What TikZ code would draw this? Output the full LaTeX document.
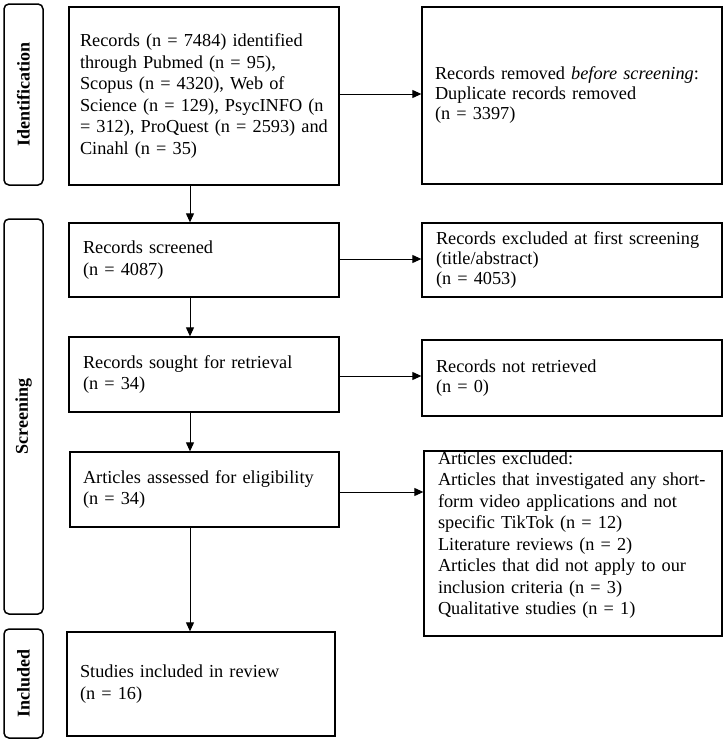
\documentclass[tikz,border=0pt]{standalone}
\usepackage{fontspec}
\setmainfont{Liberation Serif}[WordSpace=0.8]
\usetikzlibrary{arrows.meta}
\begin{document}
\begin{tikzpicture}[x=1pt,y=-1pt,
  box/.style={draw, line width=1.3pt, inner sep=0pt, align=left, font=\fontsize{18.3}{21.5}\selectfont},
  side/.style={draw, line width=1.5pt, rounded corners=5pt, inner sep=0pt, font=\fontsize{18}{21.5}\selectfont\bfseries, rotate=90},
  arr/.style={line width=1pt, -{Triangle[length=9pt,width=8pt]}}]
\useasboundingbox (0,0) rectangle (726,744);
% side labels
\node[side, minimum width=181pt, minimum height=39pt] (idl) at (23.5,94.5) {Identification};
\node[side, minimum width=395pt, minimum height=39pt] (scl) at (23.5,416.5) {Screening};
\node[side, minimum width=109pt, minimum height=39pt] (inl) at (23.5,683.5) {Included};
% left column
\node[box, minimum width=270pt, minimum height=178pt, text width=248pt] (b1) at (204,96) {Records (n = 7484) identified\\through Pubmed (n = 95),\\Scopus (n = 4320), Web of\\Science (n = 129), PsycINFO (n\\= 312), ProQuest (n = 2593) and\\Cinahl (n = 35)};
\node[box, minimum width=270pt, minimum height=74pt, text width=242pt] (scr) at (204,260) {Records screened\\(n = 4087)};
\node[box, minimum width=270pt, minimum height=75pt, text width=242pt] (sought) at (204,374.5) {Records sought for retrieval\\(n = 34)};
\node[box, minimum width=269pt, minimum height=75pt, text width=243pt] (assess) at (204.5,489.5) {Articles assessed for eligibility\\(n = 34)};
\node[box, minimum width=268pt, minimum height=104pt, text width=242pt] (incl) at (201,684) {Studies included in review\\(n = 16)};
% right column
\node[box, minimum width=300pt, minimum height=177pt, text width=274pt, font=\fontsize{18.3}{20}\selectfont] (b2) at (572,95.5) {Records removed \textit{before screening}:\\Duplicate records removed\\(n = 3397)};
\node[box, minimum width=300pt, minimum height=74pt, text width=272pt, font=\fontsize{18.3}{20}\selectfont] (exc1) at (572,260) {Records excluded at first screening\\(title/abstract)\\(n = 4053)};
\node[box, minimum width=300pt, minimum height=76pt, text width=272pt, font=\fontsize{18.3}{20}\selectfont] (notret) at (572,378) {Records not retrieved\\(n = 0)};
\node[box, minimum width=298pt, minimum height=185pt, text width=270pt] (exc2) at (573,543.5) {Articles excluded:\\Articles that investigated any short-\\form video applications and not\\specific TikTok (n = 12)\\Literature reviews (n = 2)\\Articles that did not apply to our\\inclusion criteria (n = 3)\\Qualitative studies (n = 1)\rule[-21pt]{0pt}{0pt}};
% connectors
\coordinate (spine) at (190,0);
\draw[arr] (b1.south -| spine) -- (scr.north -| spine);
\draw[arr] (scr.south -| spine) -- (sought.north -| spine);
\draw[arr] (sought.south -| spine) -- (assess.north -| spine);
\draw[arr] (assess.south -| spine) -- (incl.north -| spine);
\coordinate (h1) at (0,94);
\coordinate (h2) at (0,259);
\coordinate (h3) at (0,376);
\coordinate (h4) at (0,492);
\draw[arr] (b1.east |- h1) -- (b2.west |- h1);
\draw[arr] (scr.east |- h2) -- (exc1.west |- h2);
\draw[arr] (sought.east |- h3) -- (notret.west |- h3);
\draw[arr] (assess.east |- h4) -- (exc2.west |- h4);
\end{tikzpicture}
\end{document}
